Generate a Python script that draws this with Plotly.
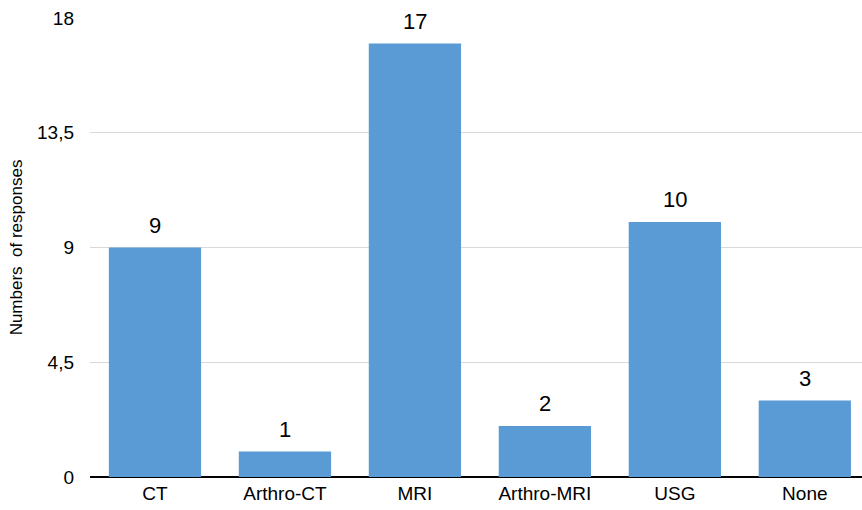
import plotly.graph_objects as go

categories = ["CT", "Arthro-CT", "MRI", "Arthro-MRI", "USG", "None"]
responses = [9, 1, 17, 2, 10, 3]
y_tick_values = [0, 4.5, 9, 13.5, 18]
y_tick_labels = ["0", "4,5", "9", "13,5", "18"]

font_family = "Liberation Sans, Arial, sans-serif"

fig = go.Figure(
    go.Bar(
        x=categories,
        y=responses,
        marker=dict(color="#5B9BD5", line=dict(width=0)),
        width=0.71,
        cliponaxis=False,
    )
)

# value labels sitting a little above each bar
for cat, val in zip(categories, responses):
    fig.add_annotation(
        x=cat,
        y=val,
        text=str(val),
        showarrow=False,
        yanchor="bottom",
        yshift=8,
        font=dict(family=font_family, size=22, color="#000000"),
    )

fig.update_layout(
    width=862,
    height=510,
    margin=dict(l=90, r=0, t=18, b=33),
    paper_bgcolor="white",
    plot_bgcolor="white",
    showlegend=False,
    font=dict(family=font_family, color="#000000"),
    xaxis=dict(
        range=[-0.5, 5.44],
        showgrid=False,
        showline=False,
        ticks="",
        tickfont=dict(size=19),
        ticklabelstandoff=3,
    ),
    yaxis=dict(
        range=[0, 18],
        tickvals=y_tick_values,
        ticktext=y_tick_labels,
        tickfont=dict(size=19),
        gridcolor="#D9D9D9",
        gridwidth=1,
        zeroline=True,
        zerolinecolor="#000000",
        zerolinewidth=1.6,
        showline=False,
        ticks="",
        ticklabelstandoff=15,
        title=dict(text="Numbers  of responses", font=dict(size=17), standoff=10),
    ),
)

fig.write_html("out.html")
